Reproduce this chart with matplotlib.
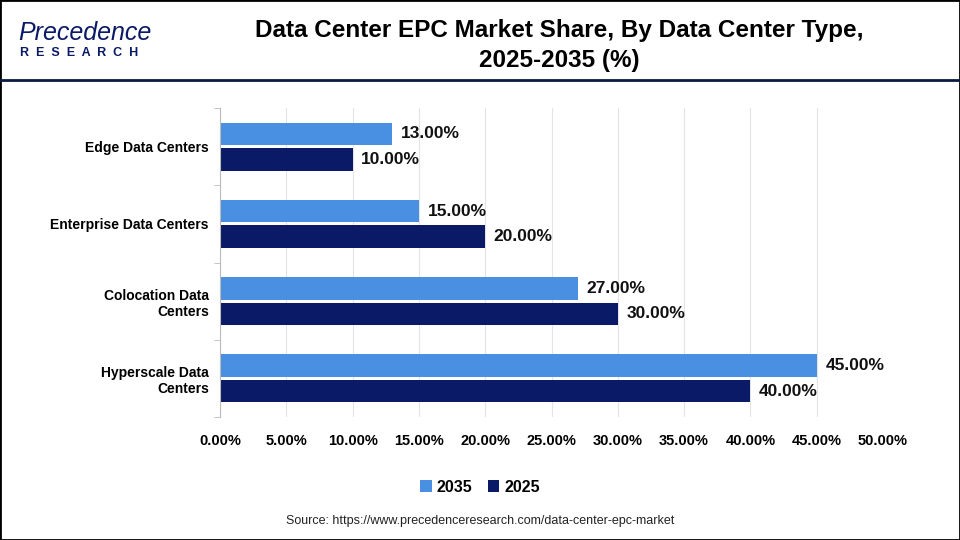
import numpy as np
import matplotlib.pyplot as plt
from matplotlib.lines import Line2D
from matplotlib.patches import Rectangle

categories = ['Edge Data Centers', 'Enterprise Data Centers', 'Colocation Data\nCenters', 'Hyperscale Data\nCenters']
share_2035 = [13.0, 15.0, 27.0, 45.0]
share_2025 = [10.0, 20.0, 30.0, 40.0]
xticks = [0, 5, 10, 15, 20, 25, 30, 35, 40, 45, 50]

c_2035 = '#4A90E2'
c_2025 = '#0B1A66'

plt.rcParams['font.family'] = ['Liberation Sans', 'DejaVu Sans']

fig = plt.figure(figsize=(9.6, 5.4), dpi=100)
ax = fig.add_axes([220/960, 1 - 417/540, (883 - 220)/960, (417 - 108)/540])

y = np.arange(len(categories))
h = 0.29
ax.barh(y - h/2 - 0.02, share_2035, height=h, color=c_2035, label='2035')
ax.barh(y + h/2 + 0.02, share_2025, height=h, color=c_2025, label='2025')

for i in range(len(categories)):
    ax.text(share_2035[i] + 0.65, y[i] - h/2 - 0.02, f'{share_2035[i]:.2f}%', va='center', ha='left',
            fontsize=12.5, fontweight='bold', color='#111111')
    ax.text(share_2025[i] + 0.65, y[i] + h/2 + 0.02, f'{share_2025[i]:.2f}%', va='center', ha='left',
            fontsize=12.5, fontweight='bold', color='#111111')

ax.set_ylim(len(categories) - 0.5, -0.5)
ax.set_xlim(0, 50)
ax.set_xticks(xticks)
ax.set_xticklabels([f'{t:.2f}%' for t in xticks], fontsize=10.5, fontweight='bold')
ax.set_yticks(y)
ax.set_yticklabels(categories, fontsize=10, fontweight='bold')
ax.set_yticks(np.arange(len(categories) + 1) - 0.5, minor=True)
ax.tick_params(axis='y', which='major', length=0, pad=13)
ax.tick_params(axis='y', which='minor', length=4, color='#BBBBBB')
ax.tick_params(axis='x', length=0, pad=12)
ax.grid(axis='x', color='#E3E3E3', linewidth=0.8)
ax.set_axisbelow(True)
for s in ['top', 'right', 'bottom']:
    ax.spines[s].set_visible(False)
ax.spines['left'].set_color('#BBBBBB')
ax.tick_params(axis='y', which='major', pad=8)

ax.legend(loc='center', bbox_to_anchor=(0.5, (540 - 487) / 540), bbox_transform=fig.transFigure,
          ncol=2, frameon=False, prop={'weight': 'bold', 'size': 11.5},
          handlelength=0.7, handleheight=0.7, handletextpad=0.3, columnspacing=1.0)

fig.text(0.583, 1 - 30/540, 'Data Center EPC Market Share, By Data Center Type,', ha='center', va='center',
         fontsize=17.5, fontweight='bold')
fig.text(0.583, 1 - 60/540, '2025-2035 (%)', ha='center', va='center', fontsize=17.5, fontweight='bold')

# logo
fig.text(18/960, 1 - 33/540, 'Precedence', ha='left', va='center', fontsize=18, color=c_2025, style='italic')
fig.text(20/960, 1 - 53/540, 'R  E  S  E  A  R  C  H', ha='left', va='center', fontsize=9, fontweight='bold', color=c_2025)

fig.text(0.5, 1 - 521/540, 'Source: https://www.precedenceresearch.com/data-center-epc-market', ha='center',
         va='center', fontsize=9, color='#222222')

fig.add_artist(Line2D([0, 1], [1 - 80/540, 1 - 80/540], color='#0B1A40', linewidth=2, transform=fig.transFigure))
fig.add_artist(Rectangle((0, 0), 1, 1, fill=False, edgecolor='black', linewidth=2, transform=fig.transFigure))

fig.savefig('out.png', dpi=100)
